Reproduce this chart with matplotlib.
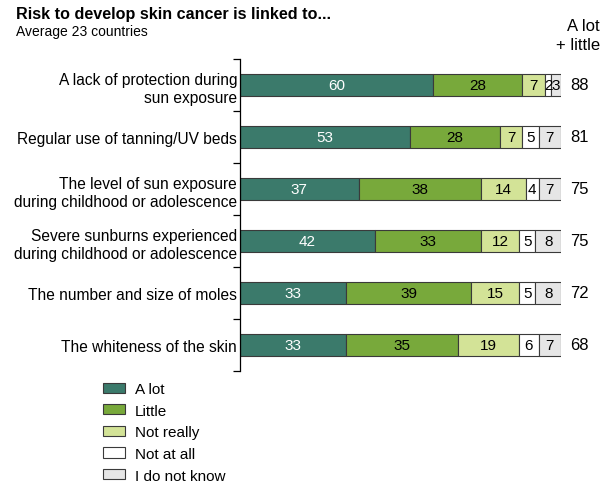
import matplotlib.pyplot as plt
import numpy as np
from matplotlib.patches import Patch

plt.rcParams['font.family'] = ['Liberation Sans', 'DejaVu Sans']

categories = [
    "A lack of protection during\nsun exposure",
    "Regular use of tanning/UV beds",
    "The level of sun exposure\nduring childhood or adolescence",
    "Severe sunburns experienced\nduring childhood or adolescence",
    "The number and size of moles",
    "The whiteness of the skin",
]
a_lot = [60, 53, 37, 42, 33, 33]
little = [28, 28, 38, 33, 39, 35]
not_really = [7, 7, 14, 12, 15, 19]
not_at_all = [2, 5, 4, 5, 5, 6]
dont_know = [3, 7, 7, 8, 8, 7]
totals = [88, 81, 75, 75, 72, 68]

series = [a_lot, little, not_really, not_at_all, dont_know]
names = ["A lot", "Little", "Not really", "Not at all", "I do not know"]
colors = ["#3b7a6b", "#78a93b", "#d3e397", "#ffffff", "#e6e6e6"]
text_colors = ["white", "black", "black", "black", "black"]

fig = plt.figure(figsize=(6.02, 4.85), dpi=100)
ax = fig.add_axes([240 / 602, 1 - 372 / 485, 321 / 602, 312 / 485])

y = np.arange(len(categories))
left = np.zeros(len(categories))
for vals, col, tc in zip(series, colors, text_colors):
    vals = np.array(vals, dtype=float)
    ax.barh(y, vals, left=left, height=0.42, color=col, edgecolor="#3a3a3a", linewidth=0.8)
    for yi, l, v in zip(y, left, vals):
        ax.text(l + v / 2, yi, f"{int(v)}", ha="center", va="center", fontsize=11, color=tc)
    left += vals

for yi, t in zip(y, totals):
    ax.text(105.8, yi, str(t), ha="center", va="center", fontsize=12)

ax.set_xlim(0, 100)
ax.set_ylim(len(categories) - 0.5, -0.5)
ax.set_yticks(y)
ax.set_yticklabels(categories, fontsize=11.2, linespacing=1.25)
ax.set_yticks(np.arange(-0.5, len(categories)), minor=True)
ax.tick_params(axis="y", which="major", length=0, pad=2)
ax.tick_params(axis="y", which="minor", length=5, direction="out", width=0.9)
for lbl in ax.get_yticklabels():
    lbl.set_horizontalalignment("right")
    lbl.set_multialignment("right")
ax.set_xticks([])
for s in ["top", "right", "bottom"]:
    ax.spines[s].set_visible(False)
ax.spines["left"].set_linewidth(0.9)

fig.text(16 / 602, 1 - 14 / 485, "Risk to develop skin cancer is linked to...",
         fontsize=11.6, fontweight="bold", va="center")
fig.text(16 / 602, 1 - 32 / 485, "Average 23 countries", fontsize=10, va="center")
fig.text(600 / 602, 1 - 36 / 485, "A lot\n+ little", fontsize=12, ha="right",
         va="center", multialignment="right", linespacing=1.4)

handles = [Patch(facecolor=c, edgecolor="#3a3a3a", linewidth=0.8) for c in colors]
fig.legend(handles, names, loc="upper left", bbox_to_anchor=(103 / 602, 1 - 383 / 485),
           frameon=False, fontsize=11, handlelength=1.45, handleheight=0.65,
           labelspacing=0.5, handletextpad=0.65, borderpad=0, borderaxespad=0)

fig.savefig("out.png", dpi=100)
